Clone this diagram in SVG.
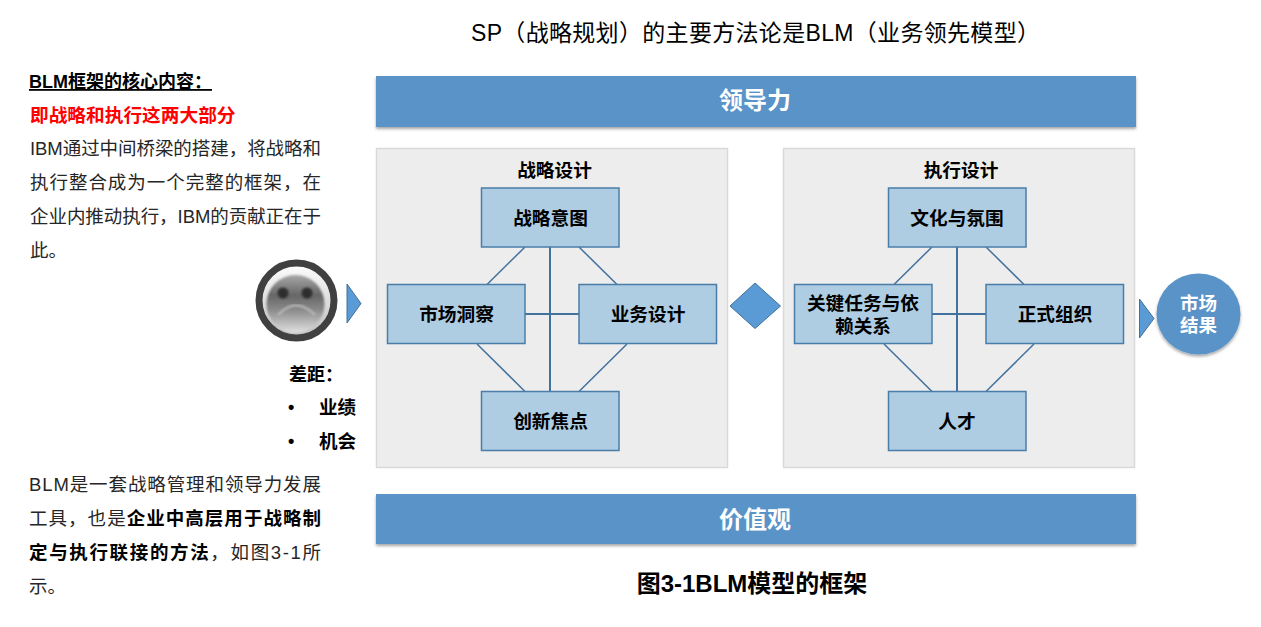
<svg xmlns="http://www.w3.org/2000/svg" width="1261" height="627" viewBox="0 0 1261 627">
<style>
text{font-family:"Liberation Sans","Noto Sans CJK SC",sans-serif;fill:#000}
.t{font-size:18.500px;fill:#262626}
.b{font-weight:bold}
.box{fill:#aecde3;stroke:#4a7ea9;stroke-width:1.5}
.panel{fill:#ededed;stroke:#d9d9d9;stroke-width:1.5}
.bar{fill:#5a93c8;filter:url(#sh)}
.n{font-size:18.700px;font-weight:bold;text-anchor:middle}
.w{fill:#fff;font-weight:bold;text-anchor:middle}
.shape{fill:#5b9bd5;stroke:#41719c;stroke-width:1}
.c line{stroke:#41719c}
</style>
<defs>
<filter id="sh" x="-10%" y="-20%" width="120%" height="150%"><feDropShadow dx="0" dy="2" stdDeviation="1.5" flood-color="#000" flood-opacity=".35"/></filter>
<linearGradient id="face" x1="0" y1="0" x2="0" y2="1"><stop offset="0" stop-color="#a8a8a8"/><stop offset=".35" stop-color="#666"/><stop offset=".6" stop-color="#8a8a8a"/><stop offset="1" stop-color="#e2e2e2"/></linearGradient>
<linearGradient id="rim" x1="0" y1="0" x2="0" y2="1"><stop offset="0" stop-color="#fff"/><stop offset="1" stop-color="#bdbdbd"/></linearGradient>
<filter id="soft"><feGaussianBlur stdDeviation=".8"/></filter>
</defs>
<rect width="1261" height="627" fill="#fff"/>
<text x="471" y="41" font-size="23" textLength="569" lengthAdjust="spacing">SP（战略规划）的主要方法论是BLM（业务领先模型）</text>
<g id="left-top">
<text x="29" y="88" font-size="18" class="b" text-decoration="underline">BLM框架的核心内容：</text>
<text x="30" y="122" font-size="18.700" class="b" style="fill:#f00">即战略和执行这两大部分</text>
<text x="30" y="155" class="t" textLength="291" lengthAdjust="spacing">IBM通过中间桥梁的搭建，将战略和</text>
<text x="30" y="189" class="t" textLength="291" lengthAdjust="spacing">执行整合成为一个完整的框架，在</text>
<text x="30" y="223" class="t" textLength="291" lengthAdjust="spacing">企业内推动执行，IBM的贡献正在于</text>
<text x="30" y="257" class="t">此。</text>
</g>
<g id="left-gap">
<text x="289" y="381" font-size="18" class="b">差距：</text>
<text x="288" y="413" font-size="18" class="b">•</text><text x="319" y="414" font-size="18.500" class="b">业绩</text>
<text x="288" y="447" font-size="18" class="b">•</text><text x="319" y="448" font-size="18.500" class="b">机会</text>
</g>
<g id="left-bottom">
<text x="29" y="491" class="t" textLength="292" lengthAdjust="spacing">BLM是一套战略管理和领导力发展</text>
<text x="29" y="525" class="t" textLength="292" lengthAdjust="spacing">工具，也是<tspan class="b" style="fill:#000">企业中高层用于战略制</tspan></text>
<text x="29" y="559" class="t" textLength="292" lengthAdjust="spacing"><tspan class="b" style="fill:#000">定与执行联接的方法</tspan>，如图3-1所</text>
<text x="29" y="593" class="t">示。</text>
</g>
<g id="face-icon">
<circle cx="296.500" cy="300.500" r="37.500" fill="url(#rim)" stroke="#404040" stroke-width="7"/>
<circle cx="295.500" cy="304" r="29" fill="url(#face)" filter="url(#soft)"/>
<circle cx="283" cy="293" r="5.500" fill="#2f2f2f" filter="url(#soft)"/>
<circle cx="307" cy="293" r="5.500" fill="#2f2f2f" filter="url(#soft)"/>
<path d="M278 315Q296 296 315 315" fill="none" stroke="#bdbdbd" stroke-width="2" filter="url(#soft)"/>
</g>
<polygon id="arrow-left" class="shape" points="347,284 361,303.500 347,323"/>
<g id="bar-lead"><rect class="bar" x="376" y="76" width="760" height="51"/><text class="w" x="755" y="109" font-size="24">领导力</text></g>
<g id="panel-strategy"><rect class="panel" x="376.500" y="148.500" width="351" height="319"/><text class="n" x="554.500" y="177">战略设计</text></g>
<g id="panel-exec"><rect class="panel" x="783.500" y="148.500" width="351" height="319"/><text class="n" x="961" y="177">执行设计</text></g>
<g id="connectors" class="c">
<g stroke-width="1.500">
<line x1="550" y1="247" x2="550" y2="391" stroke-width="2"/><line x1="525" y1="314" x2="579" y2="314" stroke-width="2"/>
<line x1="525" y1="247" x2="487" y2="284.500"/><line x1="579" y1="247" x2="617" y2="284.500"/><line x1="477" y1="344" x2="525" y2="391.500"/><line x1="627" y1="344" x2="579" y2="391.500"/>
<line x1="957" y1="247" x2="957" y2="391" stroke-width="2"/><line x1="932" y1="314" x2="986" y2="314" stroke-width="2"/>
<line x1="932" y1="247" x2="894" y2="284.500"/><line x1="986" y1="247" x2="1024" y2="284.500"/><line x1="884" y1="344" x2="932" y2="391.500"/><line x1="1034" y1="344" x2="986" y2="391.500"/>
</g>
</g>
<g id="n1"><rect class="box" x="481.500" y="188" width="137.500" height="59"/><text class="n" x="550.500" y="225">战略意图</text></g>
<g id="n2"><rect class="box" x="387.500" y="284.500" width="137.500" height="59"/><text class="n" x="456.500" y="321">市场洞察</text></g>
<g id="n3"><rect class="box" x="579" y="284.500" width="137.500" height="59"/><text class="n" x="648" y="321">业务设计</text></g>
<g id="n4"><rect class="box" x="481.500" y="391.500" width="137.500" height="59"/><text class="n" x="550.500" y="428">创新焦点</text></g>
<g id="n5"><rect class="box" x="888.500" y="188" width="137.500" height="59"/><text class="n" x="957" y="225">文化与氛围</text></g>
<g id="n6"><rect class="box" x="794.500" y="284.500" width="137.500" height="59"/><text class="n" x="863" y="310">关键任务与依</text><text class="n" x="863" y="333">赖关系</text></g>
<g id="n7"><rect class="box" x="986" y="284.500" width="137.500" height="59"/><text class="n" x="1055" y="321">正式组织</text></g>
<g id="n8"><rect class="box" x="888.500" y="391.500" width="137.500" height="59"/><text class="n" x="957" y="428">人才</text></g>
<polygon id="diamond" class="shape" points="730,306 755,283 780.500,306 755,328.500"/>
<polygon id="arrow-right" class="shape" points="1139.500,299 1154,318.500 1139.500,338"/>
<g id="result"><ellipse cx="1198.500" cy="314" rx="42" ry="40.500" fill="#5a93c8" filter="url(#sh)"/><text class="w" x="1198.500" y="310" font-size="18.500">市场</text><text class="w" x="1198.500" y="332" font-size="18.500">结果</text></g>
<g id="bar-values"><rect class="bar" x="376" y="494" width="760" height="50"/><text class="w" x="755" y="528" font-size="24">价值观</text></g>
<text x="752" y="592" font-size="24" class="b" text-anchor="middle">图3-1BLM模型的框架</text>
</svg>
